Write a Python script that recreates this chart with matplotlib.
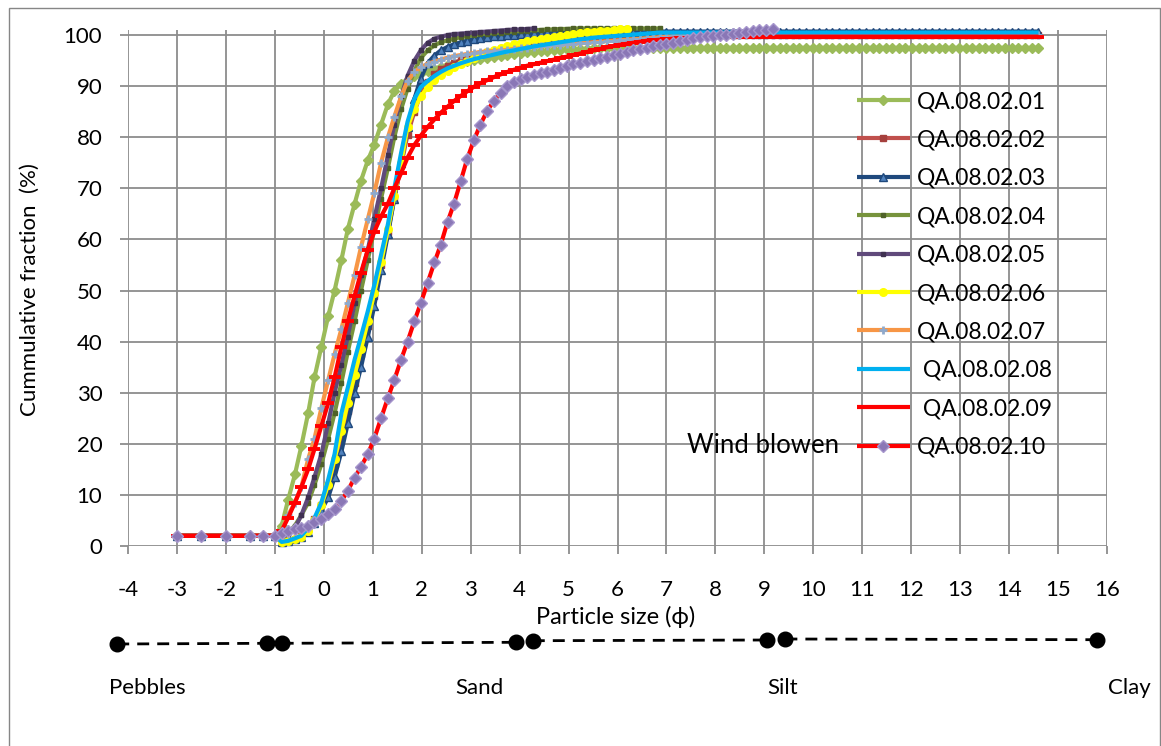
import matplotlib
matplotlib.use("Agg")
import matplotlib.pyplot as plt
from matplotlib.patches import Rectangle

plt.rcParams['font.family'] = ['Lato', 'DejaVu Sans']
plt.rcParams['axes.unicode_minus'] = False

# ---------------- data ----------------
phi = [-3.0, -2.5, -2.0, -1.5, -1.25, -1.0,
       -0.86, -0.73, -0.59, -0.46, -0.32, -0.19, -0.05, 0.09, 0.22, 0.36,
       0.49, 0.63, 0.76, 0.90, 1.03, 1.17, 1.31, 1.44, 1.58, 1.71,
       1.85, 1.98, 2.12, 2.26, 2.39, 2.53, 2.66, 2.80, 2.93, 3.07,
       3.20, 3.34, 3.48, 3.61, 3.75, 3.88, 4.02, 4.15, 4.29, 4.43,
       4.56, 4.70, 4.83, 4.97, 5.10, 5.24, 5.37, 5.51, 5.65, 5.78,
       5.92, 6.05, 6.19, 6.32, 6.46, 6.60, 6.73, 6.87, 7.00, 7.14,
       7.27, 7.41, 7.54, 7.68, 7.82, 7.95, 8.09, 8.22, 8.36, 8.49,
       8.63, 8.77, 8.90, 9.04, 9.17, 9.31, 9.44, 9.58, 9.71, 9.85,
       9.99, 10.12, 10.26, 10.39, 10.53, 10.66, 10.80, 10.94, 11.07, 11.21,
       11.34, 11.48, 11.61, 11.75, 11.88, 12.02, 12.16, 12.29, 12.43, 12.56,
       12.70, 12.83, 12.97, 13.11, 13.24, 13.38, 13.51, 13.65, 13.78, 13.92,
       14.05, 14.19, 14.33, 14.46, 14.60]

qa01 = [2, 2, 2, 2, 2, 2,
        4, 9, 14, 19.5, 26, 33, 39, 45, 50, 56,
        62, 67, 71.5, 75.5, 78.5, 82.5, 86.5, 89, 90.5, 91.2,
        92, 92.5, 93, 93.4, 93.8, 94.1, 94.4, 94.7, 95, 95.2,
        95.4, 95.6, 95.8, 96.0, 96.2, 96.3, 96.5, 96.6, 96.7, 96.8,
        96.9, 97.0, 97.1, 97.2, 97.2, 97.3, 97.3, 97.4, 97.4] + [97.5] * 66

qa02 = [2, 2, 2, 2, 2, 2,
        0.8, 1.0, 1.3, 2.0, 3.2, 5.2, 8, 11.5, 16, 21,
        26.5, 32, 37.5, 43, 49, 55, 61.5, 68, 74.5, 80.5,
        85, 88.5, 90.8, 92.3, 93.3, 94.0, 94.6, 95.1, 95.5, 95.9,
        96.3, 96.6, 96.9, 97.2, 97.5, 97.7, 97.9, 98.1, 98.3, 98.5,
        98.7, 98.8, 98.9, 99.0, 99.1, 99.2, 99.3, 99.4, 99.5, 99.6,
        99.7, 99.8, 99.9] + [100.0] * 62

qa03 = [2, 2, 2, 2, 2, 2,
        0.8, 1.0, 1.3, 1.8, 2.8, 4.5, 7, 9.5, 13.5, 18.5,
        24, 30, 35, 41, 47, 54, 61, 68, 75, 82,
        87.5, 91.5, 94.5, 96, 97, 97.7, 98.2, 98.6, 98.9, 99.2,
        99.4, 99.6, 99.8, 99.9, 100.0, 100.1, 100.2, 100.3, 100.4, 100.5,
        100.6] + [100.7] * 74

qa04 = [2, 2, 2, 2, 2, 2,
        1.5, 2.5, 4, 6, 8.5, 12, 16, 21, 26, 32,
        38, 44, 50, 56, 62, 68, 74, 80, 85.5, 89.5,
        93, 95.5, 97, 98, 98.6, 99, 99.3, 99.6, 99.8, 100,
        100.2, 100.3, 100.4, 100.5, 100.6, 100.7, 100.8, 100.9, 101.0, 101.0,
        101.1, 101.1, 101.2, 101.2] + [101.3] * 14

qa05 = [2, 2, 2, 2, 2, 2,
        1, 2, 3.5, 6, 9.5, 13.5, 18, 24, 30, 35.5,
        41, 47.5, 53, 58, 64, 70, 76.5, 82.5, 88, 92,
        95, 97, 98.5, 99.3, 99.7, 100, 100.2, 100.3, 100.4, 100.5,
        100.6, 100.7, 100.8, 100.9, 101.0, 101.1, 101.1, 101.2, 101.3]

qa06 = [2, 2, 2, 2, 2, 2,
        0.8, 1.0, 1.3, 1.8, 3, 5, 8, 12, 17, 22.5,
        28, 33.5, 38.5, 44, 49.5, 55.5, 62, 68.5, 75, 82,
        85.5, 88, 89.8, 91.2, 92.2, 93.0, 93.7, 94.3, 94.9, 95.5,
        96.1, 96.6, 97.0, 97.4, 97.8, 98.2, 98.5, 98.8, 99.0, 99.3,
        99.5, 99.7, 99.9, 100.1, 100.3, 100.4, 100.6, 100.7, 100.8, 100.9,
        101.0, 101.1, 101.2]

qa07 = [2, 2, 2, 2, 2, 2,
        3, 6, 8.5, 11.5, 17, 21, 27, 32.5, 37.5, 42.5,
        47.5, 53, 58.5, 64, 69, 75, 80, 84, 88, 91,
        92.8, 93.7, 94.4, 94.8, 95.2, 95.6, 95.9, 96.1, 96.3, 96.5,
        96.7, 96.8, 96.9, 97.0, 97.1, 97.3, 97.4, 97.5, 97.7, 97.8,
        97.9, 98.0, 98.1, 98.2, 98.3, 98.4, 98.5, 98.6, 98.7, 98.8,
        98.9, 99.0, 99.1, 99.2, 99.3, 99.4, 99.5, 99.6, 99.7, 99.8,
        99.9] + [100.0] * 54

qa08 = [2, 2, 2, 2, 2, 2,
        0.8, 1.0, 1.5, 2.0, 3.5, 5.5, 8.5, 13, 18, 26,
        31, 36.5, 41, 46, 51, 57, 63, 70, 77, 83,
        87.5, 89.8, 91, 92, 92.8, 93.5, 94, 94.5, 94.9, 95.3,
        95.6, 95.9, 96.2, 96.5, 96.8, 97.0, 97.3, 97.5, 97.8, 98.0,
        98.2, 98.4, 98.6, 98.8, 99.0, 99.2, 99.3, 99.5, 99.6, 99.7,
        99.8, 99.9, 100.0, 100.1, 100.2, 100.3, 100.4] + [100.5] * 58

qa09 = [2, 2, 2, 2, 2, 2,
        3, 5.5, 8.5, 11.5, 15, 19, 23.5, 28, 33, 39,
        44, 49, 53.5, 58, 61.5, 64.5, 67, 70, 73, 76,
        78.5, 80.3, 82, 83.5, 84.8, 86, 87.1, 88.1, 89, 89.9,
        90.6, 91.2, 91.8, 92.3, 92.8, 93.2, 93.6, 94.0, 94.3, 94.6,
        94.9, 95.2, 95.5, 95.8, 96.1, 96.4, 96.7, 97.0, 97.3, 97.6,
        97.9, 98.1, 98.3, 98.5, 98.7, 98.9, 99.0, 99.1, 99.2, 99.3,
        99.4, 99.4, 99.5, 99.5, 99.6, 99.6] + [99.7] * 49

qa10 = [2, 2, 2, 2, 2, 2,
        2.6, 3.0, 3.3, 3.6, 4.0, 4.6, 5.3, 6.2, 7.2, 8.8,
        10.8, 13.4, 15.5, 18, 21, 25, 29, 32.5, 36.5, 40,
        44, 47.5, 51.5, 55.5, 59, 63.5, 67, 71.5, 75.8, 79.5,
        82.5, 85.2, 87.2, 88.7, 90.0, 90.8, 91.4, 91.8, 92.2, 92.5,
        92.8, 93.2, 93.5, 93.9, 94.3, 94.6, 94.9, 95.2, 95.5, 95.8,
        96.1, 96.4, 96.7, 97.0, 97.2, 97.5, 97.8, 98.0, 98.3, 98.5,
        98.8, 99.1, 99.4, 99.6, 99.8, 99.9, 100.0, 100.1, 100.3, 100.5,
        100.7, 100.9, 101.0, 101.0, 101.1]

labels = ['QA.08.02.01', 'QA.08.02.02', 'QA.08.02.03', 'QA.08.02.04', 'QA.08.02.05',
          'QA.08.02.06', 'QA.08.02.07', ' QA.08.02.08', ' QA.08.02.09', 'QA.08.02.10']

# textural class boundaries (decorative scale under the axis)
class_x = [[-4.22, -1.16], [-0.86, 3.92], [4.27, 9.06], [9.43, 15.8]]
class_y = [[56, 56.7], [56.7, 57.7], [59.3, 60], [61, 60.3]]
class_names = ['Pebbles', 'Sand', 'Silt', 'Clay']
class_name_x = [-3.61, 3.18, 9.37, 16.45]

# ---------------- styles ----------------
styles = [
    dict(color='#9BBB59', marker='D', ms=5.5, mfc='#9BBB59', mec='#9BBB59'),
    dict(color='#C0504D', marker='s', ms=5, mfc='#A5403D', mec='#A5403D'),
    dict(color='#1F497D', marker='^', ms=6, mfc='#4F81BD', mec='#1F497D'),
    dict(color='#77933C', marker='s', ms=3.5, mfc='#4F6228', mec='#4F6228'),
    dict(color='#604A7B', marker='s', ms=3.5, mfc='#3F3151', mec='#3F3151'),
    dict(color='#FFFF00', marker='o', ms=5.5, mfc='#FFFF00', mec='#FFFF00'),
    dict(color='#F79646', marker='+', ms=6, mew=2, mfc='#8EA9CC', mec='#8EA9CC'),
    dict(color='#00B0F0', marker=None),
    dict(color='#FF0000', marker='_', ms=8.5, mew=2.8, mfc='#FF0000', mec='#FF0000'),
    dict(color='#FF0000', marker='D', ms=6.5, mfc='#8A77B6', mec='#A696CC'),
]
series = [qa01, qa02, qa03, qa04, qa05, qa06, qa07, qa08, qa09, qa10]

W, H = 1161, 746
fig = plt.figure(figsize=(W / 100, H / 100), dpi=100)

ax = fig.add_axes([128 / W, 1 - 546 / H, 979 / W, (546 - 30) / H])
ax.set_xlim(-4, 16)
ax.set_ylim(0, 101)
ax.set_xticks(range(-4, 17))
ax.set_yticks(range(0, 101, 10))
gridc = '#8C8C8C'
ax.grid(True, color=gridc, lw=1.3)
ax.set_axisbelow(True)
for s in ax.spines.values():
    s.set_visible(False)
ax.tick_params(axis='both', length=5.5, width=1.3, color=gridc, labelsize=16,
               direction='out')
ax.tick_params(axis='x', pad=19)
ax.tick_params(axis='y', pad=13)

handles = []
for i, (y, st) in enumerate(zip(series, styles)):
    x = phi[:len(y)]
    st = dict(st)
    h, = ax.plot(x, y, lw=3, label=labels[i], zorder=3 + i, clip_on=False,
                 solid_capstyle='butt', **st)
    handles.append(h)

leg = ax.legend(handles=handles, loc='upper left',
                bbox_to_anchor=(857 / W, 1 - 91 / H), bbox_transform=fig.transFigure,
                frameon=False, fontsize=16.5, handlelength=2.3, handletextpad=0.3,
                labelspacing=0.76, borderpad=0, borderaxespad=0)
leg.set_zorder(20)

ax.text(10.53, 19.6, 'Wind blowen', ha='right', va='center', fontsize=18.5, zorder=20)

fig.text(30 / W, 1 - 290 / H, 'Cummulative fraction  (%)', rotation=90,
         ha='center', va='center', fontsize=16)
fig.text(616 / W, 1 - 617 / H, 'Particle size (ϕ)', ha='center', va='center',
         fontsize=17)

# decorative textural scale
ax2 = fig.add_axes([128 / W, 1 - 700 / H, 979 / W, 100 / H])
ax2.set_xlim(-4, 16)
ax2.set_ylim(0, 100)
ax2.axis('off')
for xs, ys in zip(class_x, class_y):
    ax2.plot(xs, ys, color='black', lw=2, dashes=(4.3, 2.9), marker='o', ms=10.5,
             clip_on=False)
for nx, nm in zip(class_name_x, class_names):
    ax2.text(nx, 12, nm, ha='center', va='center', fontsize=16, clip_on=False)

# chart-area border
fig.patches.append(Rectangle((8.5 / W, -0.01), (1159.5 - 8.5) / W, 1.01 - 7.5 / H,
                             transform=fig.transFigure, fill=False,
                             edgecolor='#868686', lw=1))

fig.savefig('out.png', dpi=100)
